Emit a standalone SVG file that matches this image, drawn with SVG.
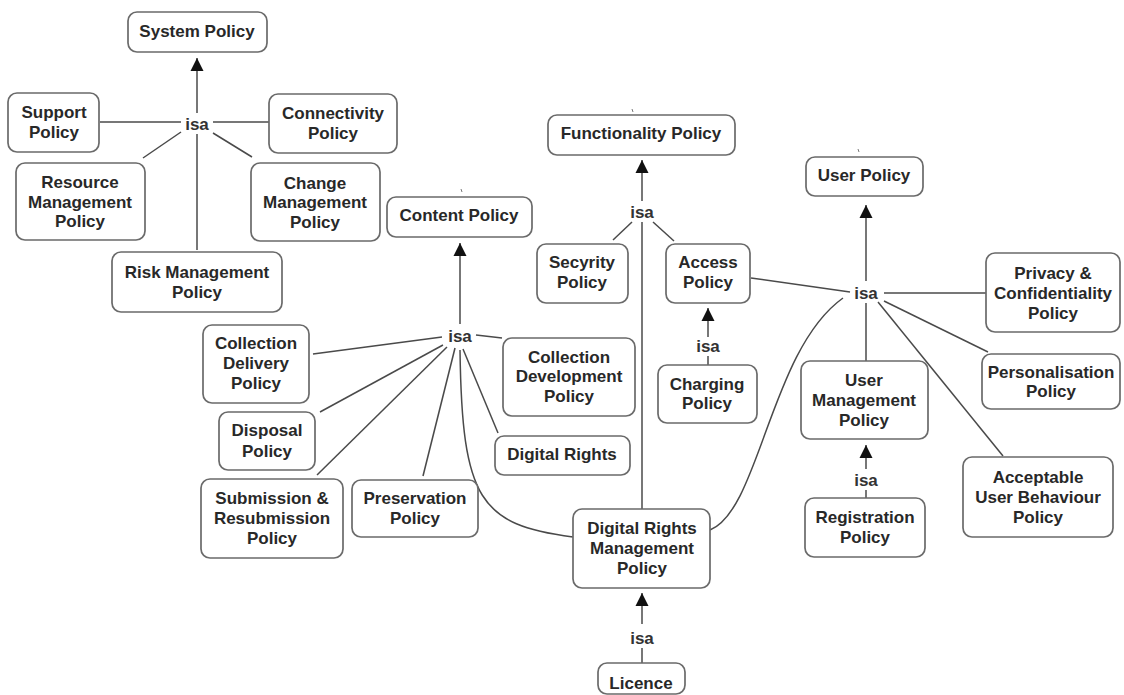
<svg xmlns="http://www.w3.org/2000/svg" width="1124" height="695" viewBox="0 0 1124 695">
  <style>
    .box { fill: #ffffff; stroke: #6a6a6a; stroke-width: 1.7; }
    .lbl { font-family: "Liberation Sans", Arial, sans-serif; font-size: 17px; font-weight: bold; fill: #282828; text-anchor: middle; }
    .isa { font-family: "Liberation Sans", Arial, sans-serif; font-size: 17px; font-weight: bold; fill: #333333; text-anchor: middle; }
    .edge { fill: none; stroke: #4a4a4a; stroke-width: 1.5; }
    .tick { fill: none; stroke: #777777; stroke-width: 1; }
  </style>
  <defs>
    <marker id="head" markerUnits="userSpaceOnUse" markerWidth="14" markerHeight="14" refX="13" refY="7" orient="auto">
      <path d="M0,0.5 L13,7 L0,13.5 z" fill="#111111"/>
    </marker>
  </defs>
  <rect width="1124" height="695" fill="#ffffff"/>

  <!-- connectors -->
  <g id="connectors">
    <!-- System Policy hierarchy -->
    <line class="edge" x1="197" y1="113" x2="197" y2="58" marker-end="url(#head)"/>
    <line class="edge" x1="100" y1="122" x2="181" y2="122"/>
    <line class="edge" x1="213" y1="122" x2="269" y2="122"/>
    <line class="edge" x1="143" y1="158" x2="181" y2="132"/>
    <line class="edge" x1="213" y1="133" x2="252" y2="157"/>
    <line class="edge" x1="197" y1="134" x2="197" y2="250"/>

    <!-- Content Policy hierarchy -->
    <line class="edge" x1="460" y1="324" x2="460" y2="243" marker-end="url(#head)"/>
    <line class="edge" x1="313" y1="354" x2="442" y2="337"/>
    <line class="edge" x1="320" y1="412" x2="443" y2="345"/>
    <line class="edge" x1="317" y1="475" x2="447" y2="347"/>
    <line class="edge" x1="423" y1="476" x2="455" y2="348"/>
    <line class="edge" x1="476" y1="335" x2="502" y2="338"/>
    <line class="edge" x1="463" y1="349" x2="498" y2="433"/>
    <path class="edge" d="M460,350 C462,500 480,525 573,537"/>

    <!-- Functionality Policy hierarchy -->
    <line class="edge" x1="642" y1="201" x2="642" y2="160" marker-end="url(#head)"/>
    <line class="edge" x1="613" y1="240" x2="632" y2="222"/>
    <line class="edge" x1="653" y1="222" x2="674" y2="241"/>
    <line class="edge" x1="642" y1="222" x2="642" y2="509"/>

    <!-- Charging -> Access -->
    <line class="edge" x1="708" y1="337" x2="708" y2="308" marker-end="url(#head)"/>
    <line class="edge" x1="708" y1="356" x2="708" y2="365"/>

    <!-- User Policy hierarchy -->
    <line class="edge" x1="866" y1="281" x2="866" y2="205" marker-end="url(#head)"/>
    <line class="edge" x1="751" y1="278" x2="850" y2="292"/>
    <line class="edge" x1="884" y1="293" x2="986" y2="293"/>
    <line class="edge" x1="884" y1="301" x2="988" y2="352"/>
    <line class="edge" x1="866" y1="303" x2="866" y2="361"/>
    <line class="edge" x1="878" y1="302" x2="1003" y2="456"/>
    <path class="edge" d="M710,530 C760,510 770,350 843,298"/>

    <!-- Registration -> User Management -->
    <line class="edge" x1="866" y1="469" x2="866" y2="445" marker-end="url(#head)"/>
    <line class="edge" x1="866" y1="490" x2="866" y2="498"/>

    <!-- Licence -> Digital Rights Management -->
    <line class="edge" x1="642" y1="624" x2="642" y2="593" marker-end="url(#head)"/>
    <line class="edge" x1="642" y1="648" x2="642" y2="663"/>

    <!-- small marks above parent boxes -->
    <line class="tick" x1="461" y1="189" x2="462" y2="192"/>
    <line class="tick" x1="632" y1="109" x2="633" y2="112"/>
    <line class="tick" x1="858" y1="149" x2="859" y2="152"/>
  </g>

  <!-- isa labels -->
  <g id="isa-labels">
    <text class="isa" x="197" y="130">isa</text>
    <text class="isa" x="460" y="342">isa</text>
    <text class="isa" x="642" y="218">isa</text>
    <text class="isa" x="708" y="352">isa</text>
    <text class="isa" x="866" y="299">isa</text>
    <text class="isa" x="866" y="486">isa</text>
    <text class="isa" x="642" y="644">isa</text>
  </g>

  <!-- nodes -->
  <g id="system-policy">
    <rect class="box" x="128" y="12" width="139" height="40" rx="9"/>
    <text class="lbl" x="197" y="37">System Policy</text>
  </g>
  <g id="support-policy">
    <rect class="box" x="8" y="93" width="91" height="59" rx="9"/>
    <text class="lbl" x="54" y="118">Support</text>
    <text class="lbl" x="54" y="138">Policy</text>
  </g>
  <g id="connectivity-policy">
    <rect class="box" x="269" y="94" width="128" height="59" rx="9"/>
    <text class="lbl" x="333" y="119">Connectivity</text>
    <text class="lbl" x="333" y="139">Policy</text>
  </g>
  <g id="resource-management-policy">
    <rect class="box" x="16" y="163" width="129" height="77" rx="9"/>
    <text class="lbl" x="80" y="188">Resource</text>
    <text class="lbl" x="80" y="208">Management</text>
    <text class="lbl" x="80" y="227">Policy</text>
  </g>
  <g id="change-management-policy">
    <rect class="box" x="251" y="163" width="129" height="78" rx="9"/>
    <text class="lbl" x="315" y="189">Change</text>
    <text class="lbl" x="315" y="208">Management</text>
    <text class="lbl" x="315" y="228">Policy</text>
  </g>
  <g id="risk-management-policy">
    <rect class="box" x="112" y="252" width="170" height="60" rx="9"/>
    <text class="lbl" x="197" y="278">Risk Management</text>
    <text class="lbl" x="197" y="298">Policy</text>
  </g>

  <g id="content-policy">
    <rect class="box" x="387" y="197" width="145" height="40" rx="9"/>
    <text class="lbl" x="459" y="221">Content Policy</text>
  </g>
  <g id="collection-delivery-policy">
    <rect class="box" x="203" y="325" width="106" height="78" rx="9"/>
    <text class="lbl" x="256" y="349">Collection</text>
    <text class="lbl" x="256" y="369">Delivery</text>
    <text class="lbl" x="256" y="389">Policy</text>
  </g>
  <g id="disposal-policy">
    <rect class="box" x="219" y="412" width="96" height="58" rx="9"/>
    <text class="lbl" x="267" y="436">Disposal</text>
    <text class="lbl" x="267" y="457">Policy</text>
  </g>
  <g id="submission-policy">
    <rect class="box" x="201" y="479" width="142" height="79" rx="9"/>
    <text class="lbl" x="272" y="504">Submission &amp;</text>
    <text class="lbl" x="272" y="524">Resubmission</text>
    <text class="lbl" x="272" y="544">Policy</text>
  </g>
  <g id="preservation-policy">
    <rect class="box" x="352" y="480" width="126" height="57" rx="9"/>
    <text class="lbl" x="415" y="504">Preservation</text>
    <text class="lbl" x="415" y="524">Policy</text>
  </g>
  <g id="collection-development-policy">
    <rect class="box" x="503" y="338" width="132" height="78" rx="9"/>
    <text class="lbl" x="569" y="363">Collection</text>
    <text class="lbl" x="569" y="382">Development</text>
    <text class="lbl" x="569" y="402">Policy</text>
  </g>
  <g id="digital-rights">
    <rect class="box" x="495" y="436" width="135" height="39" rx="9"/>
    <text class="lbl" x="562" y="460">Digital Rights</text>
  </g>

  <g id="functionality-policy">
    <rect class="box" x="548" y="115" width="187" height="40" rx="9"/>
    <text class="lbl" x="641" y="139">Functionality Policy</text>
  </g>
  <g id="security-policy">
    <rect class="box" x="537" y="244" width="91" height="59" rx="9"/>
    <text class="lbl" x="582" y="268">Secyrity</text>
    <text class="lbl" x="582" y="288">Policy</text>
  </g>
  <g id="access-policy">
    <rect class="box" x="666" y="244" width="84" height="59" rx="9"/>
    <text class="lbl" x="708" y="268">Access</text>
    <text class="lbl" x="708" y="288">Policy</text>
  </g>
  <g id="charging-policy">
    <rect class="box" x="658" y="365" width="99" height="58" rx="9"/>
    <text class="lbl" x="707" y="390">Charging</text>
    <text class="lbl" x="707" y="409">Policy</text>
  </g>

  <g id="user-policy">
    <rect class="box" x="806" y="157" width="117" height="39" rx="9"/>
    <text class="lbl" x="864" y="181">User Policy</text>
  </g>
  <g id="privacy-policy">
    <rect class="box" x="986" y="253" width="134" height="79" rx="9"/>
    <text class="lbl" x="1053" y="279">Privacy &amp;</text>
    <text class="lbl" x="1053" y="299">Confidentiality</text>
    <text class="lbl" x="1053" y="319">Policy</text>
  </g>
  <g id="personalisation-policy">
    <rect class="box" x="982" y="354" width="138" height="55" rx="9"/>
    <text class="lbl" x="1051" y="378">Personalisation</text>
    <text class="lbl" x="1051" y="397">Policy</text>
  </g>
  <g id="user-management-policy">
    <rect class="box" x="801" y="361" width="127" height="78" rx="9"/>
    <text class="lbl" x="864" y="386">User</text>
    <text class="lbl" x="864" y="406">Management</text>
    <text class="lbl" x="864" y="426">Policy</text>
  </g>
  <g id="acceptable-behaviour-policy">
    <rect class="box" x="963" y="457" width="150" height="80" rx="9"/>
    <text class="lbl" x="1038" y="483">Acceptable</text>
    <text class="lbl" x="1038" y="503">User Behaviour</text>
    <text class="lbl" x="1038" y="523">Policy</text>
  </g>
  <g id="registration-policy">
    <rect class="box" x="805" y="498" width="120" height="59" rx="9"/>
    <text class="lbl" x="865" y="523">Registration</text>
    <text class="lbl" x="865" y="543">Policy</text>
  </g>

  <g id="drm-policy">
    <rect class="box" x="573" y="509" width="137" height="79" rx="9"/>
    <text class="lbl" x="642" y="534">Digital Rights</text>
    <text class="lbl" x="642" y="554">Management</text>
    <text class="lbl" x="642" y="574">Policy</text>
  </g>
  <g id="licence">
    <rect class="box" x="598" y="663" width="87" height="31" rx="9"/>
    <text class="lbl" x="641" y="689">Licence</text>
  </g>
</svg>
